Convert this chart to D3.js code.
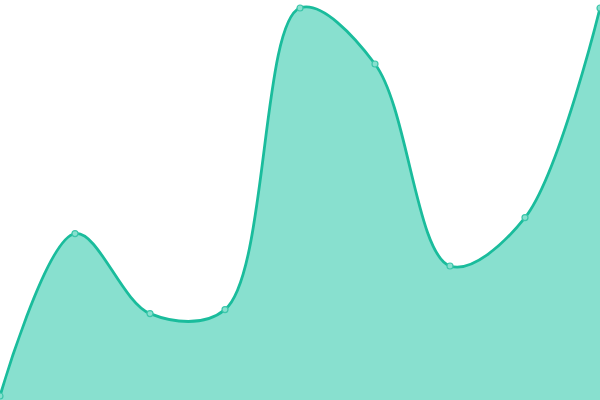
<!DOCTYPE html>
<html>
<head>
<meta charset="utf-8">
<script src="https://cdn.jsdelivr.net/npm/d3@7"></script>
<style>
html,body{margin:0;padding:0;background:#fff;overflow:hidden;}
svg{display:block;}
</style>
</head>
<body>
<svg id="chart" width="600" height="400"></svg>
<script>
const categories = [0, 1, 2, 3, 4, 5, 6, 7, 8];
const values = [1, 41.6, 21.6, 22.6, 98, 84, 33.5, 45.6, 98];

const W = 600, H = 400;
const svg = d3.select("#chart");
const x = d3.scaleLinear().domain([0, categories.length - 1]).range([0, W]);
const y = d3.scaleLinear().domain([0, 100]).range([H, 0]);

const data = categories.map((c, i) => ({c, v: values[i]}));
const curve = d3.curveCatmullRom.alpha(0.5);

svg.append("path")
  .datum(data)
  .attr("fill", "#88e0cf")
  .attr("d", d3.area().x(d => x(d.c)).y0(H).y1(d => y(d.v)).curve(curve));

svg.append("path")
  .datum(data)
  .attr("fill", "none")
  .attr("stroke", "#1abc9c")
  .attr("stroke-width", 2.8)
  .attr("d", d3.line().x(d => x(d.c)).y(d => y(d.v)).curve(curve));

svg.selectAll("circle")
  .data(data)
  .join("circle")
  .attr("cx", d => x(d.c))
  .attr("cy", d => y(d.v))
  .attr("r", 3)
  .attr("fill", "#88e0cf")
  .attr("stroke", "#3cc6aa")
  .attr("stroke-width", 1.2);
</script>
</body>
</html>
